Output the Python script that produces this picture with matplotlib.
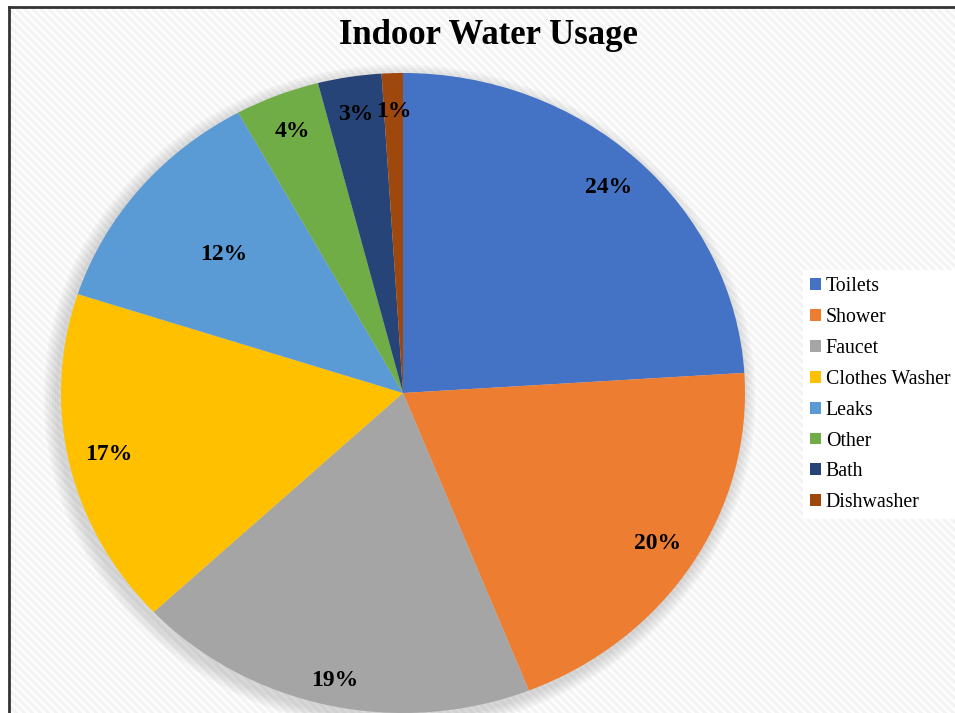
import matplotlib
matplotlib.use("Agg")
import numpy as np
import matplotlib.pyplot as plt
from matplotlib.patches import Ellipse
from matplotlib.lines import Line2D

# data
categories = ["Toilets", "Shower", "Faucet", "Clothes Washer", "Leaks", "Other", "Bath", "Dishwasher"]
shares = [24, 20, 19, 17, 12, 4, 3, 1]
colors = ["#4472C4", "#ED7D31", "#A5A5A5", "#FFC000", "#5B9BD5", "#70AD47", "#264478", "#9E480E"]

W, H = 955, 713
fig = plt.figure(figsize=(W / 100, H / 100), dpi=100)
fig.patch.set_facecolor("white")

# striped background texture inside the frame
bg_ax = fig.add_axes([9 / W, 0, 1 - 9 / W, (H - 7) / H], zorder=0)
yy, xx = np.mgrid[0:H - 7, 0:W - 9]
stripes = np.where(((xx - yy) % 8) < 4, 0.99, 0.95)
bg_ax.imshow(stripes, cmap="gray", vmin=0, vmax=1, aspect="auto", interpolation="bilinear")
bg_ax.axis("off")
fig.add_artist(Line2D([9 / W, 1], [(H - 7) / H] * 2, transform=fig.transFigure, color="#333333", lw=2))
fig.add_artist(Line2D([9 / W] * 2, [0, (H - 7) / H], transform=fig.transFigure, color="#333333", lw=2))

# pie (slightly squashed, like the original)
ax = fig.add_axes([61 / W, 0, 684 / W, 640 / H], zorder=5)
ax.set_facecolor("none")

# soft shadow
for i in range(5):
    s = 1.0 + 0.008 * (i + 1)
    ax.add_patch(Ellipse((-0.01, -0.015), 2 * s, 2 * s, facecolor="#666666", alpha=0.05,
                         lw=0, zorder=0, clip_on=False))

wedges, texts, autotexts = ax.pie(shares, colors=colors, startangle=90, counterclock=False,
                                  autopct="%d%%", pctdistance=0.88, radius=1,
                                  wedgeprops=dict(linewidth=0),
                                  textprops=dict(fontsize=17, fontweight="bold",
                                                 family="Liberation Serif", color="black"))
for w in wedges:
    w.set_clip_on(False)
ax.set_aspect("auto")
ax.set_xlim(-1, 1)
ax.set_ylim(-1, 1)
ax.axis("off")


def place(i, dist):
    mid = 90 - 360 * (sum(shares[:i]) + shares[i] / 2) / 100
    autotexts[i].set_position((dist * np.cos(np.radians(mid)), dist * np.sin(np.radians(mid))))


place(2, 0.92)   # Faucet label a bit further out
place(4, 0.68)   # Leaks label closer to the centre

fig.text(488 / W, 1 - 36 / H, "Indoor Water Usage", ha="center", va="center",
         fontsize=25, fontweight="bold", family="Liberation Serif", zorder=6)

leg = fig.legend(wedges, categories, loc="upper left", bbox_to_anchor=(803 / W, 1 - 270 / H),
                 frameon=True, facecolor="white", edgecolor="none", framealpha=1,
                 prop=dict(family="Liberation Serif", size=14.3),
                 handlelength=0.55, handleheight=0.55, handletextpad=0.25,
                 labelspacing=0.6, borderpad=0.35, borderaxespad=0)
leg.get_frame().set_boxstyle("square", pad=0)
leg.set_zorder(6)

fig.savefig("out.png", dpi=100)
